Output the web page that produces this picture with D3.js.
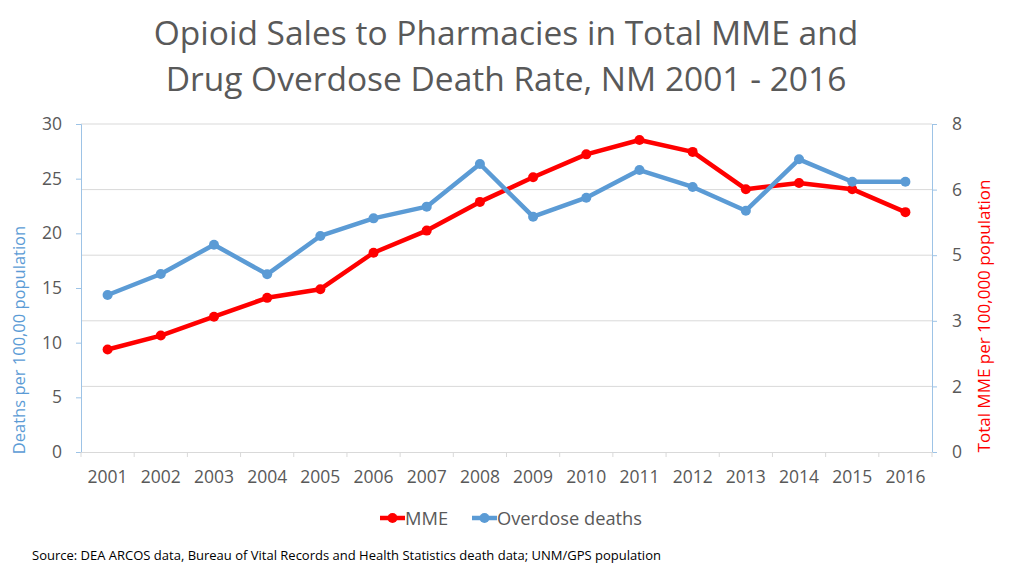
<!DOCTYPE html>
<html><head><meta charset="utf-8">
<script src="https://cdn.jsdelivr.net/npm/d3@7"></script>
<style>body{margin:0;background:#fff}svg{display:block}</style>
</head><body><svg id="c" width="1024" height="576"></svg>
<script>
const years = ["2001","2002","2003","2004","2005","2006","2007","2008","2009","2010","2011","2012","2013","2014","2015","2016"];
const mme = [2.50,2.84,3.30,3.76,3.97,4.86,5.40,6.10,6.70,7.26,7.61,7.32,6.41,6.56,6.41,5.85];
const deaths = [14.36,16.28,18.96,16.25,19.76,21.37,22.44,26.34,21.52,23.26,25.79,24.24,22.07,26.77,24.72,24.72];
const leftTicks = [0,5,10,15,20,25,30];
const rightTicks = [0,1.6,3.2,4.8,6.4,8];
const titleLines = ["Opioid Sales to Pharmacies in Total MME and","Drug Overdose Death Rate, NM 2001 - 2016"];
const seriesNames = ["MME","Overdose deaths"];
const leftTitle = "Deaths per 100,00 population";
const rightTitle = "Total MME per 100,000 population";
const source = "Source: DEA ARCOS data, Bureau of Vital Records and Health Statistics death data; UNM/GPS population";

const svg = d3.select("#c");
const F = "'Open Sans', sans-serif";
const L = 81, R = 932, T = 124, B = 452;
const x = d3.scaleBand().domain(years).range([L, R]);
const yL = d3.scaleLinear().domain([0,30]).range([B, T]);
const yR = d3.scaleLinear().domain([0,8]).range([B, T]);
const axisCol = "#9DC3E6", gridCol = "#D9D9D9", txt = "#595959";
const red = "#FF0000", blue = "#5B9BD5";

// title
svg.selectAll("text.title").data(titleLines).enter().append("text")
  .attr("x", 506).attr("y", (d,i)=>45 + i*46)
  .attr("text-anchor","middle").attr("font-family",F).attr("font-size",33.5)
  .attr("fill",txt).text(d=>d);

// gridlines (right axis positions)
svg.append("g").selectAll("line").data(rightTicks.filter(d=>d>0)).enter().append("line")
  .attr("x1",L).attr("x2",R).attr("y1",d=>yR(d)).attr("y2",d=>yR(d))
  .attr("stroke",gridCol).attr("stroke-width",1);

// left axis
const gl = svg.append("g").attr("transform",`translate(${L},0)`)
  .call(d3.axisLeft(yL).tickValues(leftTicks).tickSize(5).tickPadding(14));
// right axis
const gr = svg.append("g").attr("transform",`translate(${R},0)`)
  .call(d3.axisRight(yR).tickValues(rightTicks).tickSize(5).tickPadding(15).tickFormat(d=>Math.round(d)));
// bottom axis
const gb = svg.append("g").attr("transform",`translate(0,${B})`)
  .call(d3.axisBottom(x).tickSize(0).tickPadding(19));
svg.append("g").selectAll("line").data(d3.range(years.length+1)).enter().append("line")
  .attr("x1",i=>L + i*x.step()).attr("x2",i=>L + i*x.step())
  .attr("y1",B).attr("y2",B+5).attr("stroke",gridCol);

[gl,gr].forEach(g=>{
  g.select(".domain").attr("stroke",axisCol);
  g.selectAll(".tick line").attr("stroke",axisCol);
});
gb.select(".domain").attr("stroke",gridCol);
[gl,gr,gb].forEach(g=>{
  g.selectAll(".tick text").attr("font-family",F).attr("font-size",17.5).attr("fill",txt);
});

// axis titles
svg.append("text").attr("transform","translate(25,340) rotate(-90)")
  .attr("text-anchor","middle").attr("font-family",F).attr("font-size",16.5)
  .attr("fill",blue).text(leftTitle);
svg.append("text").attr("transform","translate(990,316) rotate(-90)")
  .attr("text-anchor","middle").attr("font-family",F).attr("font-size",17)
  .attr("fill",red).text(rightTitle);

const cx = d => x(d) + x.bandwidth()/2;
function drawSeries(vals, scale, col){
  const line = d3.line().x((d,i)=>cx(years[i])).y(d=>scale(d));
  svg.append("path").datum(vals).attr("d",line).attr("fill","none")
    .attr("stroke",col).attr("stroke-width",4.5).attr("stroke-linejoin","round");
  svg.append("g").selectAll("circle").data(vals).enter().append("circle")
    .attr("cx",(d,i)=>cx(years[i])).attr("cy",d=>scale(d)).attr("r",5).attr("fill",col);
}
drawSeries(mme, yR, red);
drawSeries(deaths, yL, blue);

// legend
const leg = [{n:seriesNames[0],c:red,x:380},{n:seriesNames[1],c:blue,x:472}];
leg.forEach(l=>{
  svg.append("line").attr("x1",l.x).attr("x2",l.x+25).attr("y1",518).attr("y2",518)
    .attr("stroke",l.c).attr("stroke-width",4.5);
  svg.append("circle").attr("cx",l.x+12.5).attr("cy",518).attr("r",5).attr("fill",l.c);
  svg.append("text").attr("x",l.x+25).attr("y",524.5).attr("font-family",F).attr("font-size",18.3)
    .attr("fill",txt).text(l.n);
});

// source
svg.append("text").attr("x",32).attr("y",560).attr("font-family",F).attr("font-size",13)
  .attr("fill","#000").text(source);
</script></body></html>
